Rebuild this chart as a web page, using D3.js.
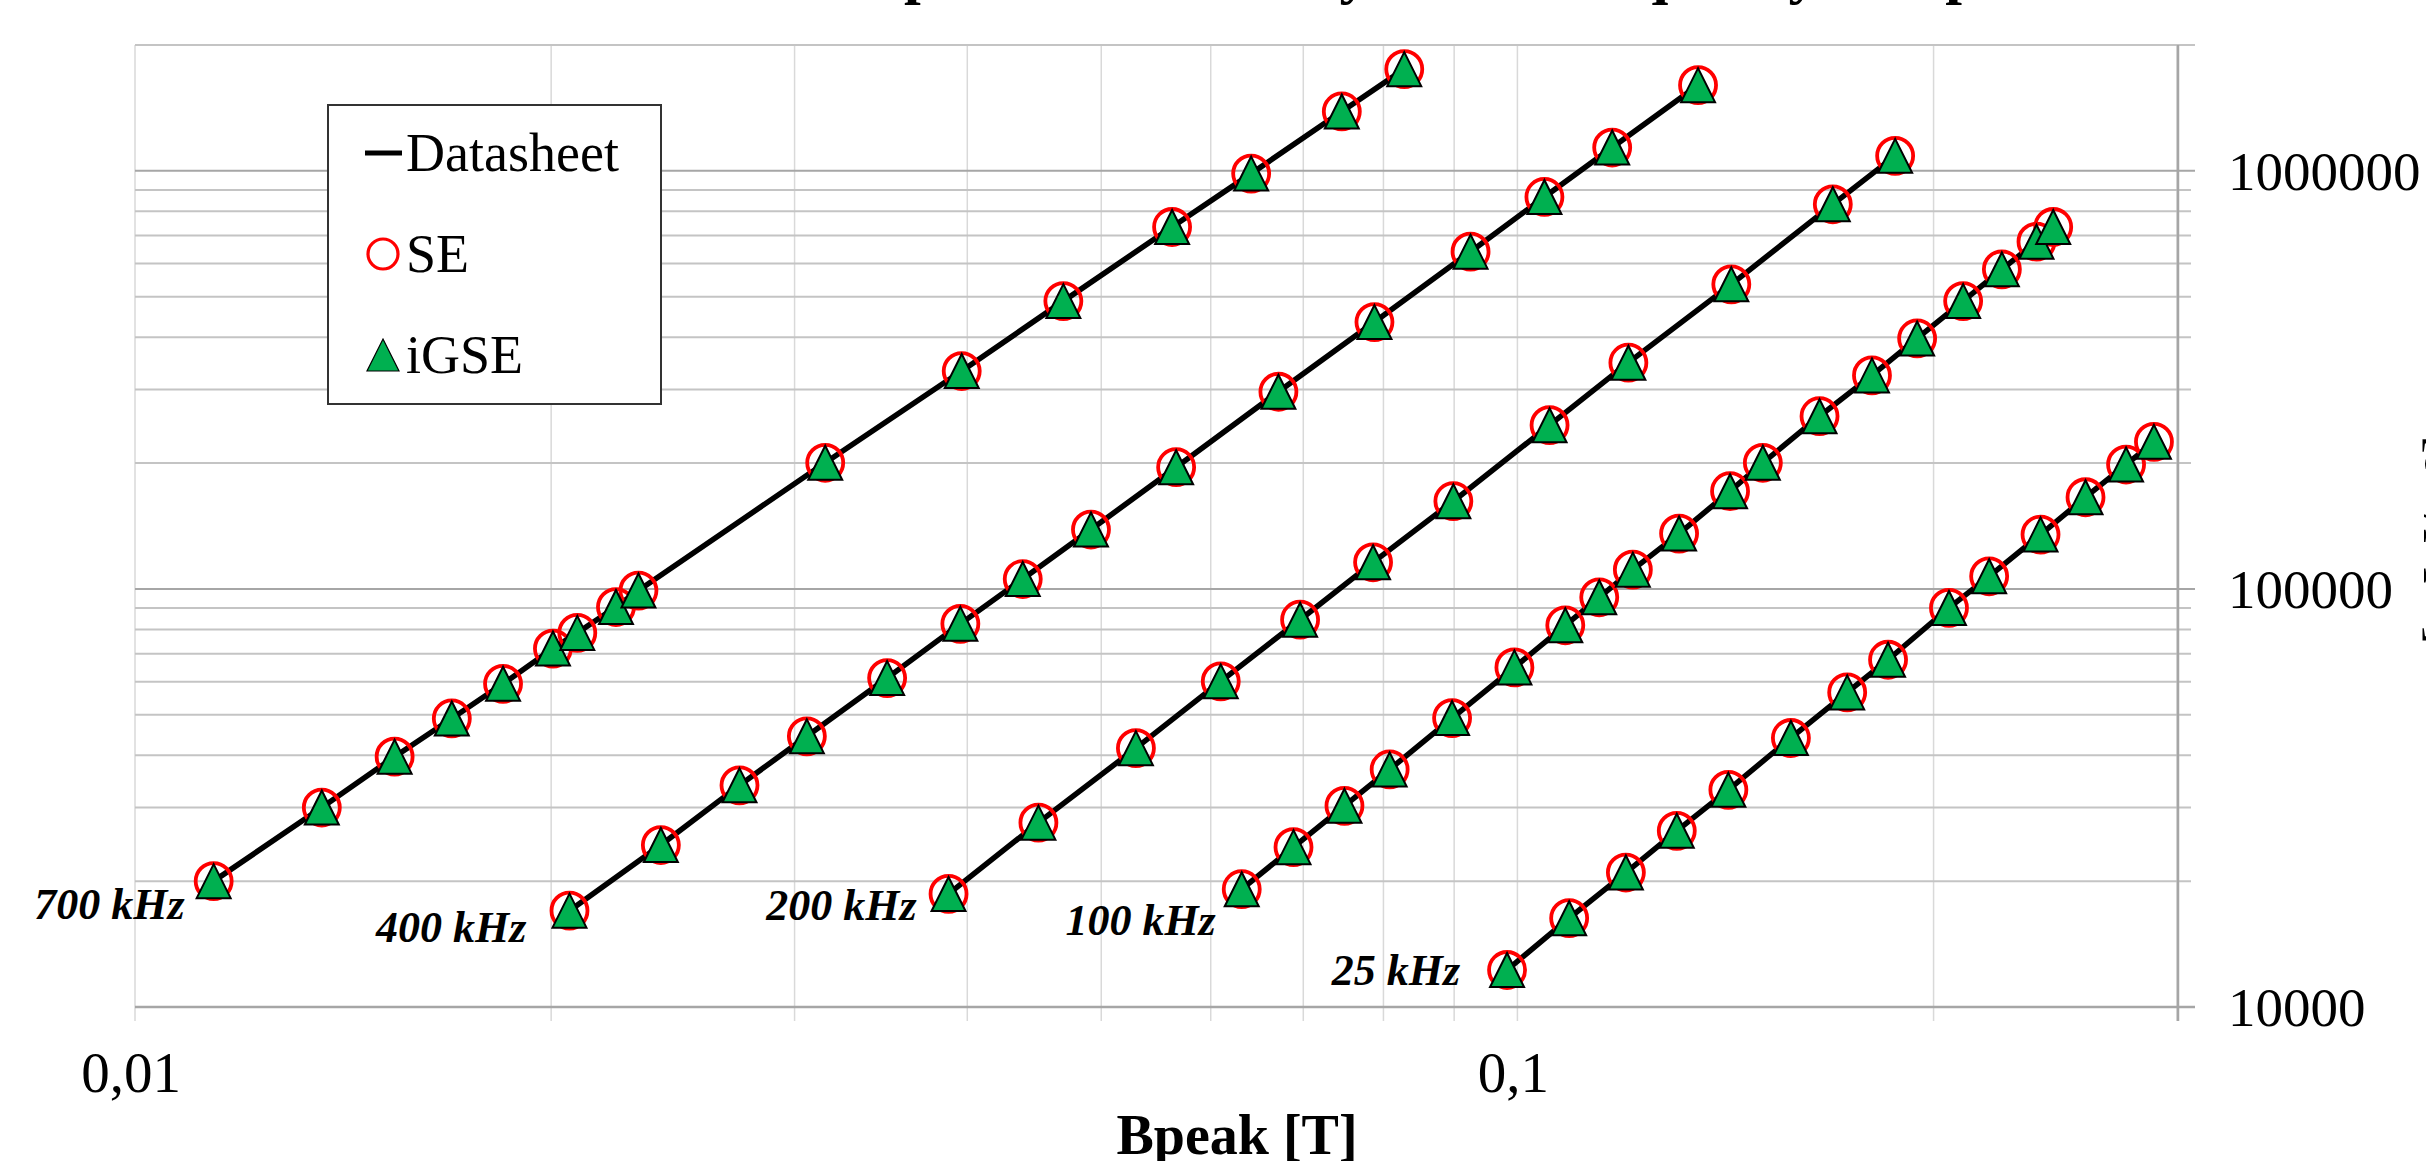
<!DOCTYPE html>
<html lang="en">
<head>
<meta charset="utf-8">
<title>Power loss density vs Bpeak</title>
<script src="https://cdn.jsdelivr.net/npm/d3@7"></script>
<style>
  html, body { margin: 0; padding: 0; background: #fff; overflow: hidden; }
  svg { display: block; font-family: "Liberation Serif", "Times New Roman", serif; }
  .vgrid { stroke: #d9d9d9; stroke-width: 1.5; }
  .hgrid { stroke: #c4c4c4; stroke-width: 2; }
  .hgrid.major { stroke: #a6a6a6; }
  .axis-line { stroke: #a6a6a6; stroke-width: 2.5; fill: none; }
  .ds-line { fill: none; stroke: #000; stroke-width: 5.5; stroke-linejoin: round; }
  .se { fill: none; stroke: #ff0000; stroke-width: 3.8; }
  .igse { fill: #00b050; stroke: #000; stroke-width: 2; stroke-linejoin: miter; }
  .tick-label { font-size: 57px; fill: #000; }
  .axis-title { font-size: 56px; font-weight: bold; fill: #000; }
  .freq-label { font-size: 44px; font-weight: bold; font-style: italic; fill: #000; }
  .legend-text { font-size: 54px; fill: #000; }
</style>
</head>
<body>
<script>
// ---- data (Bpeak in T, loss density) ----
var frequencies = ["700 kHz", "400 kHz", "200 kHz", "100 kHz", "25 kHz"];

var bpeak700 = [0.0114, 0.01365, 0.01541, 0.01695, 0.01846, 0.02006, 0.02089, 0.02228, 0.02313,
                0.03157, 0.03963, 0.04694, 0.05626, 0.06418, 0.07464, 0.08282];
var pv700    = [20000, 30000, 39700, 49000, 59300, 72000, 78500, 90500, 99100,
                200300, 332000, 488000, 734000, 985000, 1387000, 1751000];

var bpeak400 = [0.02062, 0.02401, 0.02737, 0.03062, 0.035, 0.03954, 0.04387, 0.04915,
                0.05664, 0.06716, 0.07881, 0.09249, 0.1046, 0.1171, 0.1351];
var pv400    = [17000, 24400, 33900, 44400, 61200, 82500, 105600, 138700,
                195500, 296200, 434800, 640800, 866000, 1137000, 1603000];

var bpeak200 = [0.03877, 0.04503, 0.05297, 0.06101, 0.06963, 0.07863, 0.08988, 0.1055,
                0.1203, 0.1428, 0.1691, 0.1876];
var pv200    = [18640, 27600, 41600, 60100, 84400, 115800, 162100, 246400,
                347600, 535200, 831800, 1086000];

var bpeak100 = [0.06318, 0.06887, 0.07497, 0.08083, 0.08969, 0.0995, 0.1083, 0.1146, 0.1212,
                0.1309, 0.1425, 0.1505, 0.1654, 0.1805, 0.1946, 0.2101, 0.2241, 0.2374, 0.2441];
var pv100    = [19130, 24120, 30280, 37000, 49100, 64900, 81850, 95500, 111200,
                135650, 171300, 200300, 258900, 324100, 397300, 488100, 581300, 677000, 734100];

var bpeak25  = [0.09829, 0.109, 0.1198, 0.1304, 0.1421, 0.1577, 0.1732, 0.1854, 0.2052,
                0.2194, 0.239, 0.2576, 0.2756, 0.2887];
var pv25     = [12260, 16310, 20970, 26390, 33070, 44000, 56550, 67700, 90060,
                107200, 134900, 165700, 198400, 224800];

// SE and iGSE results fall on the datasheet points at this resolution
var xTickValues = [0.01, 0.1];
var yTickValues = [10000, 100000, 1000000];
var legendNames = ["Datasheet", "SE", "iGSE"];

var chartTitle = "Core power loss density versus frequency and peak induction";
var xTitle = "Bpeak [T]";
var yTitle = "[mW/m\u00b3]";

// label offsets (px) from each series' first point: right edge, baseline
var labelOffsets = [[-29, 38], [-43, 31], [-32, 26], [-26, 46], [-47, 15]];

var series = [
  { name: frequencies[0], b: bpeak700, p: pv700 },
  { name: frequencies[1], b: bpeak400, p: pv400 },
  { name: frequencies[2], b: bpeak200, p: pv200 },
  { name: frequencies[3], b: bpeak100, p: pv100 },
  { name: frequencies[4], b: bpeak25,  p: pv25 }
].map(function(s) {
  s.points = s.b.map(function(b, i) { return { b: b, p: s.p[i] }; });
  return s;
});

var W = 2426, H = 1161,
    plot = { left: 135, right: 2177, top: 45, bottom: 1007 };

var xScale = d3.scaleLog().domain([0.01, 0.3]).range([plot.left, plot.right]),
    yScale = d3.scaleLog().domain([10000, 2000000]).range([plot.bottom, plot.top]);

var comma = d3.formatLocale({ decimal: ",", thousands: "", grouping: [3], currency: ["", ""] });
var xFormat = function(d) { return comma.format("")(d); };

var svg = d3.select("body").append("svg")
  .attr("width", W)
  .attr("height", H);

// grid values: 1..9 per decade
var xGrid = [], yGrid = [];
[0.01, 0.1].forEach(function(dec) {
  d3.range(1, 10).forEach(function(k) { var v = +(k * dec).toPrecision(3); if (v <= 0.3 + 1e-9) xGrid.push(v); });
});
[10000, 100000, 1000000].forEach(function(dec) {
  d3.range(1, 10).forEach(function(k) { var v = k * dec; if (v <= 2000000) yGrid.push(v); });
});
var isMajor = function(v) { return Math.abs(Math.log10(v) - Math.round(Math.log10(v))) < 1e-6; };

// vertical gridlines (extend a bit below as tick marks)
svg.append("g").selectAll("line")
  .data(xGrid)
  .enter().append("line")
  .attr("class", "vgrid")
  .attr("x1", function(d) { return xScale(d); })
  .attr("x2", function(d) { return xScale(d); })
  .attr("y1", plot.top)
  .attr("y2", plot.bottom + 14);

// horizontal gridlines (extend past the right axis as ticks)
svg.append("g").selectAll("line")
  .data(yGrid)
  .enter().append("line")
  .attr("class", function(d) { return isMajor(d) ? "hgrid major" : "hgrid"; })
  .attr("x1", plot.left)
  .attr("x2", function(d) { return isMajor(d) || d === 2000000 ? plot.right + 18 : plot.right + 14; })
  .attr("y1", function(d) { return yScale(d); })
  .attr("y2", function(d) { return yScale(d); });

// axis lines
svg.append("line").attr("class", "axis-line")
  .attr("x1", plot.left).attr("x2", plot.right + 18)
  .attr("y1", plot.bottom).attr("y2", plot.bottom);
svg.append("line").attr("class", "axis-line")
  .attr("x1", plot.right + 1).attr("x2", plot.right + 1)
  .attr("y1", plot.top).attr("y2", plot.bottom + 14);

// tick labels
svg.append("g").selectAll("text")
  .data(xTickValues)
  .enter().append("text")
  .attr("class", "tick-label")
  .attr("x", function(d) { return xScale(d) - 4; })
  .attr("y", 1092)
  .attr("text-anchor", "middle")
  .text(xFormat);

svg.append("g").selectAll("text")
  .data(yTickValues)
  .enter().append("text")
  .attr("class", "tick-label")
  .attr("x", 2228)
  .attr("y", function(d) { return yScale(d); })
  .attr("dy", "0.35em")
  .style("font-size", "55px")
  .text(d3.format("d"));

// axis titles
svg.append("text").attr("class", "axis-title")
  .attr("x", 1237).attr("y", 1154)
  .attr("text-anchor", "middle")
  .text(xTitle);

// secondary axis title sits mostly outside the picture, as in the original
svg.append("text").attr("class", "axis-title")
  .attr("transform", "translate(2462,540) rotate(-90)")
  .attr("text-anchor", "middle")
  .style("font-weight", "normal")
  .text(yTitle);

// chart title, mostly outside the picture; only descenders show
var title = svg.append("text").attr("class", "axis-title")
  .attr("y", -8)
  .style("font-size", "60px")
  .text(chartTitle);
var pre = title.node().getSubStringLength(0, chartTitle.indexOf("power"));
title.attr("x", 904 - pre);

// datasheet lines
var line = d3.line()
  .x(function(d) { return xScale(d.b); })
  .y(function(d) { return yScale(d.p); });

var gSeries = svg.append("g");
gSeries.selectAll("path.ds-line")
  .data(series)
  .enter().append("path")
  .attr("class", "ds-line")
  .attr("d", function(s) { return line(s.points); });

// SE circles
var allPoints = d3.merge(series.map(function(s) { return s.points; }));
gSeries.selectAll("circle.se")
  .data(allPoints)
  .enter().append("circle")
  .attr("class", "se")
  .attr("cx", function(d) { return xScale(d.b); })
  .attr("cy", function(d) { return yScale(d.p); })
  .attr("r", 18);

// iGSE triangles
function triangle(h) {
  return "M0," + (-h) + "L" + h + "," + h + "L" + (-h) + "," + h + "Z";
}
gSeries.selectAll("path.igse")
  .data(allPoints)
  .enter().append("path")
  .attr("class", "igse")
  .attr("transform", function(d) { return "translate(" + xScale(d.b) + "," + yScale(d.p) + ")"; })
  .attr("d", triangle(17));

// frequency labels next to the first point of each series
svg.append("g").selectAll("text")
  .data(series)
  .enter().append("text")
  .attr("class", "freq-label")
  .attr("text-anchor", "end")
  .attr("x", function(s, i) { return xScale(s.points[0].b) + labelOffsets[i][0]; })
  .attr("y", function(s, i) { return yScale(s.points[0].p) + labelOffsets[i][1]; })
  .text(function(s) { return s.name; });

// legend
var legend = svg.append("g").attr("transform", "translate(328,105)");
legend.append("rect")
  .attr("width", 333).attr("height", 299)
  .attr("fill", "#fff").attr("stroke", "#333").attr("stroke-width", 2);

var rowY = [48, 149, 250];
legend.append("line")
  .attr("x1", 37).attr("x2", 74)
  .attr("y1", rowY[0]).attr("y2", rowY[0])
  .attr("stroke", "#000").attr("stroke-width", 5);
legend.append("circle")
  .attr("class", "se")
  .attr("cx", 55).attr("cy", rowY[1])
  .attr("r", 15).style("stroke-width", 3.2);
legend.append("path")
  .attr("class", "igse")
  .attr("transform", "translate(55," + rowY[2] + ")")
  .style("stroke-width", 1.2)
  .attr("d", triangle(16));

legend.selectAll("text")
  .data(legendNames)
  .enter().append("text")
  .attr("class", "legend-text")
  .attr("x", 78)
  .attr("y", function(d, i) { return rowY[i] + 18; })
  .text(function(d) { return d; });
</script>
</body>
</html>
